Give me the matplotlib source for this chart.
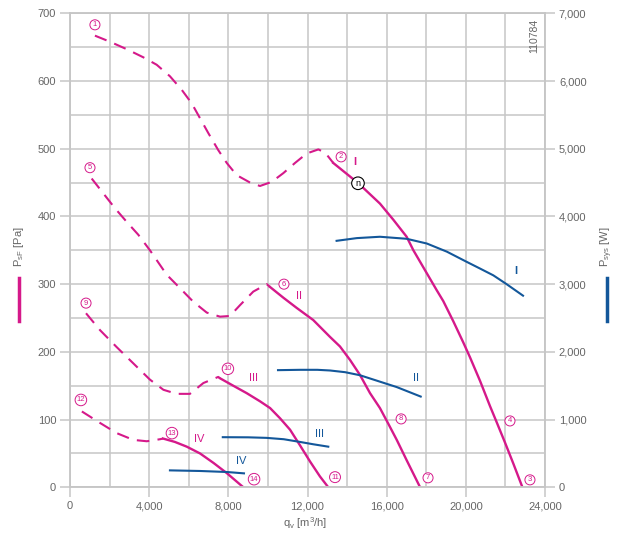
import matplotlib.pyplot as plt
from matplotlib.lines import Line2D
from matplotlib.ticker import MultipleLocator, FuncFormatter

plt.rcParams['font.family'] = ['Liberation Sans', 'DejaVu Sans']

pink = '#d5198a'
blue = '#13579a'
grey = '#c6c6c6'
txt = '#666666'

# pressure curves [Pa], dashed (unstable) part and solid part
p1_dash_x = [1260, 2020, 2865, 3705, 4380, 5050, 5645, 6150, 6570, 6990, 7490, 7920, 8420, 9100, 9600,
             10190, 10780, 11370, 11960, 12550, 12900, 13300]
p1_dash_y = [667, 658, 647, 635, 624, 607, 587, 567, 545, 523, 498, 479, 461, 450, 445,
             451, 464, 479, 493, 499, 494, 479]
p1_x = [13300, 14570, 15660, 16340, 17010, 17350, 18030, 18530, 18860, 19370, 19870, 20210, 20720,
        21220, 21560, 21980, 22400, 22860]
p1_y = [479, 449, 419, 395, 370, 350, 316, 291, 275, 245, 214, 192, 157, 120, 96, 66, 35, 0]

p2_dash_x = [1095, 1685, 2275, 2865, 3450, 4040, 4885, 5560, 6230, 6910, 7580, 8080, 8590, 9260, 9940, 10100]
p2_dash_y = [456, 434, 412, 392, 373, 350, 314, 294, 274, 258, 252, 253, 269, 289, 300, 296]
p2_x = [10100, 10780, 11450, 12290, 13140, 13640, 14150, 14650, 15160, 15660, 16080, 16510, 17010, 17690]
p2_y = [296, 280, 265, 247, 222, 208, 188, 166, 139, 117, 94, 70, 40, 0]

p3_dash_x = [810, 1520, 2360, 3200, 4040, 4720, 5390, 6060, 6740, 7490, 7580]
p3_dash_y = [257, 232, 207, 183, 159, 144, 138, 138, 154, 163, 161]
p3_x = [7580, 8250, 8930, 9600, 10110, 10610, 11120, 11620, 12130, 12630, 13050]
p3_y = [161, 150, 139, 127, 117, 102, 85, 62, 38, 16, 0]

p4_dash_x = [600, 1520, 2360, 3200, 3880, 4550, 4700]
p4_dash_y = [112, 95, 80, 70, 68, 71, 72]
p4_x = [4700, 5300, 5900, 6570, 7250, 7920, 8760]
p4_y = [72, 67, 60, 50, 36, 21, 0]

# power curves [W]
b1_x = [13470, 14490, 15660, 17010, 18030, 19040, 20040, 20720, 21390, 22060, 22890]
b1_y = [3640, 3680, 3700, 3670, 3600, 3480, 3330, 3230, 3130, 3000, 2830]
b2_x = [10510, 11620, 12500, 13140, 13900, 14650, 15660, 16510, 17720]
b2_y = [1730, 1735, 1735, 1725, 1700, 1655, 1560, 1480, 1340]
b3_x = [7720, 9000, 9930, 10800, 11620, 12300, 13050]
b3_y = [740, 738, 730, 710, 670, 635, 600]
b4_x = [5050, 6570, 7920, 8790]
b4_y = [250, 241, 226, 206]

# circled point numbers (x, y in Pa)
num_labels = ['1', '2', '3', '4', '5', '6', '7', '8', '9', '10', '11', '12', '13', '14']
num_x = [1260, 13700, 23240, 22230, 1010, 10810, 18090, 16730, 810, 7980, 13390, 550, 5150, 9300]
num_y = [683, 488, 11, 98, 472, 300, 14, 101, 272, 175, 15, 129, 80, 12]

roman = ['I', 'II', 'III', 'IV']
pink_rx = [14400, 11570, 9250, 6520]
pink_ry = [480, 282, 161, 71]
blue_rx = [22540, 17480, 12630, 8640]
blue_ry = [319, 161, 79, 39]

fig = plt.figure(figsize=(6.24, 5.38), dpi=100)
ax = fig.add_axes([70 / 624, 50.7 / 538, 475 / 624, 474 / 538])
ax2 = ax.twinx()

ax.set_xlim(0, 24000)
ax.set_ylim(0, 700)
ax2.set_ylim(0, 7000)

ax.xaxis.set_major_locator(MultipleLocator(4000))
ax.xaxis.set_minor_locator(MultipleLocator(2000))
ax.yaxis.set_major_locator(MultipleLocator(100))
ax.yaxis.set_minor_locator(MultipleLocator(50))
ax2.yaxis.set_major_locator(MultipleLocator(1000))
ax2.yaxis.set_minor_locator(MultipleLocator(500))

fmt = FuncFormatter(lambda v, p: f'{int(v):,}')
ax.xaxis.set_major_formatter(fmt)
ax2.yaxis.set_major_formatter(fmt)

ax.grid(True, which='both', color=grey, lw=1.1)
ax.set_axisbelow(True)
for a in (ax, ax2):
    for s in a.spines.values():
        s.set_color(grey)
        s.set_linewidth(1.1)
    a.tick_params(which='major', length=7, width=1.1, color=grey, labelsize=8, labelcolor=txt, pad=3)
    a.tick_params(which='minor', length=0)

for xs, ys, xd, yd in [(p1_x, p1_y, p1_dash_x, p1_dash_y),
                       (p2_x, p2_y, p2_dash_x, p2_dash_y),
                       (p3_x, p3_y, p3_dash_x, p3_dash_y),
                       (p4_x, p4_y, p4_dash_x, p4_dash_y)]:
    ax.plot(xd, yd, color=pink, lw=1.5, dashes=(6, 4))
    ax.plot(xs, ys, color=pink, lw=1.7)

for xs, ys in [(b1_x, b1_y), (b2_x, b2_y), (b3_x, b3_y), (b4_x, b4_y)]:
    ax2.plot(xs, ys, color=blue, lw=1.5)

for lab, x, y in zip(num_labels, num_x, num_y):
    ax2.text(x, y * 10, lab, fontsize=5.5, color=pink, ha='center', va='center',
             bbox=dict(boxstyle='circle,pad=0.2', fc='white', ec=pink, lw=0.7))

# operating point
ax2.text(14550, 4490, 'n', fontsize=6.5, color='black', ha='center', va='center',
         bbox=dict(boxstyle='circle,pad=0.2', fc='white', ec='black', lw=0.8))

for r, x, y in zip(roman, pink_rx, pink_ry):
    ax2.text(x, y * 10, r, fontsize=8, color=pink, ha='center', va='center',
             fontweight='bold' if r == 'I' else 'normal')
for r, x, y in zip(roman, blue_rx, blue_ry):
    ax2.text(x, y * 10, r, fontsize=8, color=blue, ha='center', va='center',
             fontweight='bold' if r == 'I' else 'normal')

ax2.text(23450, 6920, '110784', rotation=90, fontsize=7.5, color=txt, ha='center', va='top')

fig.text(305 / 624, 1 - 523 / 538, r'$\mathregular{q_v}$ [m$\mathregular{^3}$/h]',
         fontsize=8, color=txt, ha='center', va='center')
fig.text(19 / 624, 1 - 247 / 538, r'$\mathregular{P_{sF}}$ [Pa]', rotation=90,
         fontsize=8, color=txt, ha='center', va='center')
fig.text(607 / 624, 1 - 247 / 538, r'$\mathregular{P_{sys}}$ [W]', rotation=90,
         fontsize=8, color=txt, ha='center', va='center')
fig.add_artist(Line2D([19 / 624, 19 / 624], [1 - 278 / 538, 1 - 321 / 538], color=pink, lw=2.5))
fig.add_artist(Line2D([607 / 624, 607 / 624], [1 - 278 / 538, 1 - 321 / 538], color=blue, lw=2.5))

fig.savefig('out.png', dpi=100)
